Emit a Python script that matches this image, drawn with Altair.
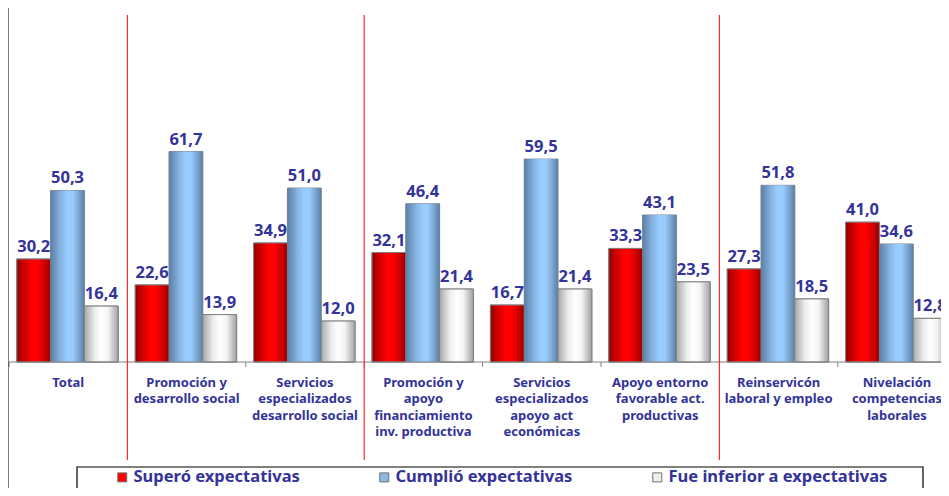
import altair as alt
import pandas as pd

categories = [
    "Total",
    "Promoción y\ndesarrollo social",
    "Servicios\nespecializados\ndesarrollo social",
    "Promoción y\napoyo\nfinanciamiento\ninv. productiva",
    "Servicios\nespecializados\napoyo act\neconómicas",
    "Apoyo entorno\nfavorable act.\nproductivas",
    "Reinservicón\nlaboral y empleo",
    "Nivelación\ncompetencias\nlaborales",
]
series = ["Superó expectativas", "Cumplió expectativas", "Fue inferior a expectativas"]
supero = [30.2, 22.6, 34.9, 32.1, 16.7, 33.3, 27.3, 41.0]
cumplio = [50.3, 61.7, 51.0, 46.4, 59.5, 43.1, 51.8, 34.6]
inferior = [16.4, 13.9, 12.0, 21.4, 21.4, 23.5, 18.5, 12.8]
separators = [categories[1], categories[3], categories[6]]

rows = []
for j, (s, vals) in enumerate(zip(series, [supero, cumplio, inferior])):
    for i, (c, v) in enumerate(zip(categories, vals)):
        rows.append({"cat": c, "i": i, "serie": s, "j": j, "v": v})
df = pd.DataFrame(rows)
cat_df = pd.DataFrame({"cat": categories, "i": list(range(len(categories)))})
sep_df = pd.DataFrame({"i": [categories.index(c) for c in separators]})
n_cat = len(categories)

TXT = "#333399"
FONT = "Noto Sans"
BAR_START, BAR_W = 0.066, 0.2855
PLOT_W = 932

# one unit of x = one category slot; the last slot runs past the right edge, as in the original
xscale = alt.Scale(domain=[0, PLOT_W / 118.4], nice=False, zero=False)
yscale = alt.Scale(domain=[0, 103.8], nice=False)

base = alt.Chart(df).transform_calculate(
    x0=f"datum.i + {BAR_START} + datum.j * {BAR_W}",
    zero="0",
).transform_calculate(
    x1=f"datum.x0 + {BAR_W}", xc=f"datum.x0 + {BAR_W / 2}",
    lab="replace(format(datum.v, '.1f'), '.', ',')",
)

X0 = alt.X("x0:Q", scale=xscale, axis=None)
X1 = alt.X2("x1:Q")
Y = alt.Y("v:Q", scale=yscale, axis=None)
Y2 = alt.Y2("zero:Q")

legend_bars = base.mark_bar(stroke="#808080", strokeWidth=1).encode(
    x=X0, x2=X1, y=Y, y2=Y2,
    color=alt.Color(
        "serie:N",
        scale=alt.Scale(domain=series, range=["#ff0000", "#8cb8e4", "#eeeeee"]),
        legend=alt.Legend(
            title=None, orient="none", legendX=105, legendY=461, direction="horizontal",
            symbolType="square", symbolSize=81, symbolStrokeColor="#707070", symbolStrokeWidth=1,
            labelFont=FONT, labelFontSize=16.5, labelFontWeight="bold", labelColor=TXT,
            labelOffset=3, columnPadding=76, labelLimit=400, padding=0,
        ),
    ),
)


def grad(stops):
    return alt.Gradient(
        gradient="linear", x1=0, x2=1, y1=0, y2=0,
        stops=[alt.GradientStop(color=c, offset=o) for o, c in stops],
    )


red_g = grad([(0, "#8e0000"), (0.15, "#c00000"), (0.45, "#ff0000"), (0.6, "#ff0000"), (0.85, "#c80000"), (1, "#940000")])
blue_g = grad([(0, "#5b7fa6"), (0.3, "#86b4e2"), (0.5, "#99ccff"), (0.65, "#99ccff"), (0.85, "#78a2cc"), (1, "#5b7fa6")])
white_g = grad([(0, "#a8a8a8"), (0.3, "#ececec"), (0.5, "#ffffff"), (0.7, "#f4f4f4"), (1, "#a0a0a0")])

layers = [legend_bars]
for s, g, st in zip(series, [red_g, blue_g, white_g], ["#808080", None, "#808080"]):
    kw = dict(fill=g)
    if st:
        kw.update(stroke=st, strokeWidth=1)
    else:
        kw.update(strokeWidth=0)
    layers.append(
        base.transform_filter(alt.datum.serie == s).mark_bar(**kw).encode(
            x=X0, x2=X1, y=Y, y2=Y2
        )
    )

values = base.mark_text(
    dy=-7, baseline="alphabetic", align="center", font=FONT, fontSize=16.5,
    fontWeight="bold", color=TXT,
).encode(x=alt.X("xc:Q", scale=xscale, axis=None), y=Y, text="lab:N")

cat_labels = alt.Chart(cat_df).transform_calculate(c="datum.i + 0.5").mark_text(
    lineBreak="\n", baseline="alphabetic", align="center", font=FONT, fontSize=13,
    fontWeight="bold", color=TXT, lineHeight=16.3,
).encode(x=alt.X("c:Q", scale=xscale, axis=None), y=alt.value(379), text="cat:N")

domain_line = alt.Chart(cat_df.head(1)).transform_calculate(
    a="0", b=str(n_cat)
).mark_rule(color="#808080", strokeWidth=1).encode(
    x=alt.X("a:Q", scale=xscale, axis=None), x2=alt.X2("b:Q"), y=alt.value(354)
)

ticks = alt.Chart(cat_df).mark_rule(color="#808080", strokeWidth=1).encode(
    x=alt.X("i:Q", scale=xscale, axis=None), y=alt.value(354), y2=alt.value(359),
)

seps = alt.Chart(sep_df).mark_rule(color="#ff2a2a", strokeWidth=1.2).encode(
    x=alt.X("i:Q", scale=xscale, axis=None), y=alt.value(7), y2=alt.value(452),
)

box = alt.Chart(cat_df.head(1)).mark_rect(fillOpacity=0, stroke="black", strokeWidth=1.2).encode(
    x=alt.value(68), x2=alt.value(914), y=alt.value(459), y2=alt.value(520)
)

left_border = alt.Chart(cat_df.head(1)).mark_rule(color="black", strokeWidth=3).encode(
    x=alt.value(-2), y=alt.value(0), y2=alt.value(480)
)

chart = alt.layer(*layers, values, cat_labels, domain_line, ticks, seps, box, left_border).properties(
    width=PLOT_W, height=354,
    autosize=alt.AutoSizeParams(type="none"),
    padding={"left": 1, "top": 0, "right": 0, "bottom": 126},
).configure_view(stroke=None)

chart.save("out.html", embed_options={"renderer": "svg", "actions": False})
